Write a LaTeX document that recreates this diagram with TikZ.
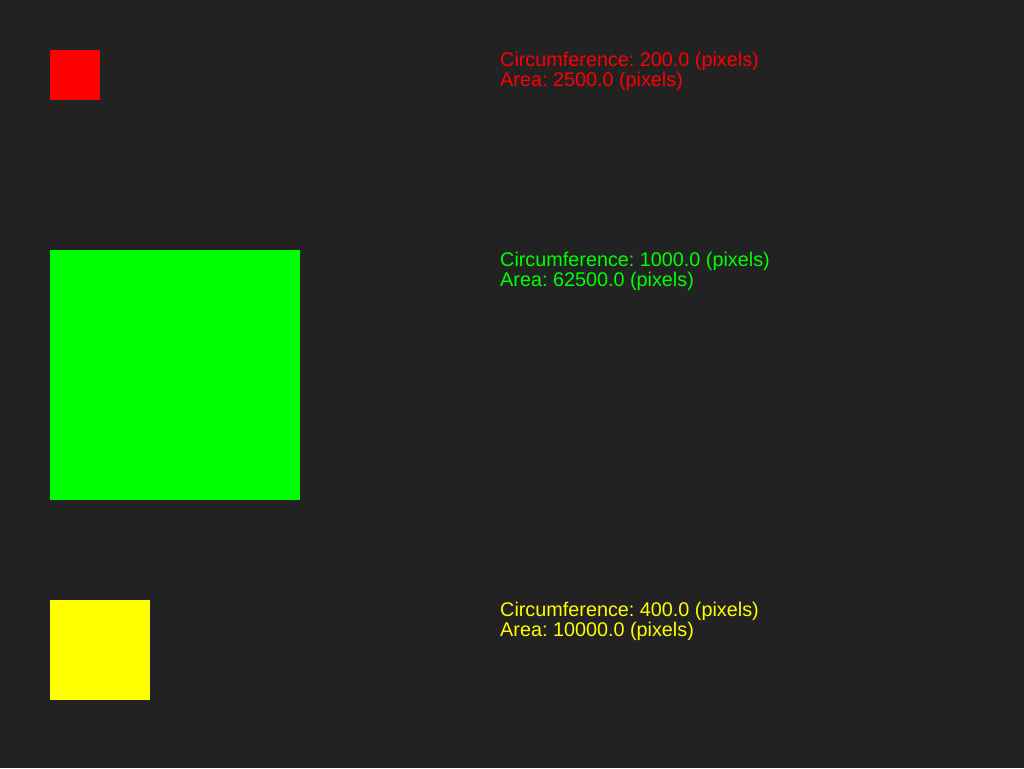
\documentclass[tikz,border=0pt]{standalone}
\usepackage{fontspec}
\setmainfont{Liberation Sans}
\frenchspacing
\definecolor{panelbg}{HTML}{222222}
\definecolor{sqred}{HTML}{FF0000}
\definecolor{sqgreen}{HTML}{00FF00}
\definecolor{sqyellow}{HTML}{FFFF00}

\begin{document}
\begin{tikzpicture}[x=1pt,y=-1pt]
    \pgfmathsetmacro{\pagewidth}{1024}
    \pgfmathsetmacro{\pageheight}{768}
    \pgfmathsetmacro{\squareleft}{50}
    \pgfmathsetmacro{\textleft}{500}
    \pgfmathsetmacro{\baselineoffset}{16.5}
    \pgfmathsetmacro{\linegap}{20}
    \providecommand{\infofontsize}{\fontsize{19.8pt}{20pt}\selectfont}
    \tikzset{infotext/.style={inner sep=0,anchor=base west,font=\infofontsize}}
    \fill[panelbg] (0,0) rectangle (\pagewidth,\pageheight);
    \useasboundingbox (0,0) rectangle (\pagewidth,\pageheight);
    \foreach \name/\col/\top/\side/\circtext/\areatext in {red/sqred/50/50/200.0/2500.0, green/sqgreen/250/250/1000.0/62500.0, yellow/sqyellow/600/100/400.0/10000.0} {
        \fill[\col] (\squareleft,\top) rectangle (\squareleft+\side,\top+\side);
        \node[infotext,text=\col] (\name-circ) at (\textleft,\top+\baselineoffset) {Circumference: \circtext\ (pixels)};
        \node[infotext,text=\col] (\name-area) at (\textleft,\top+\baselineoffset+\linegap) {Area: \areatext\ (pixels)};
    }
\end{tikzpicture}
\end{document}
